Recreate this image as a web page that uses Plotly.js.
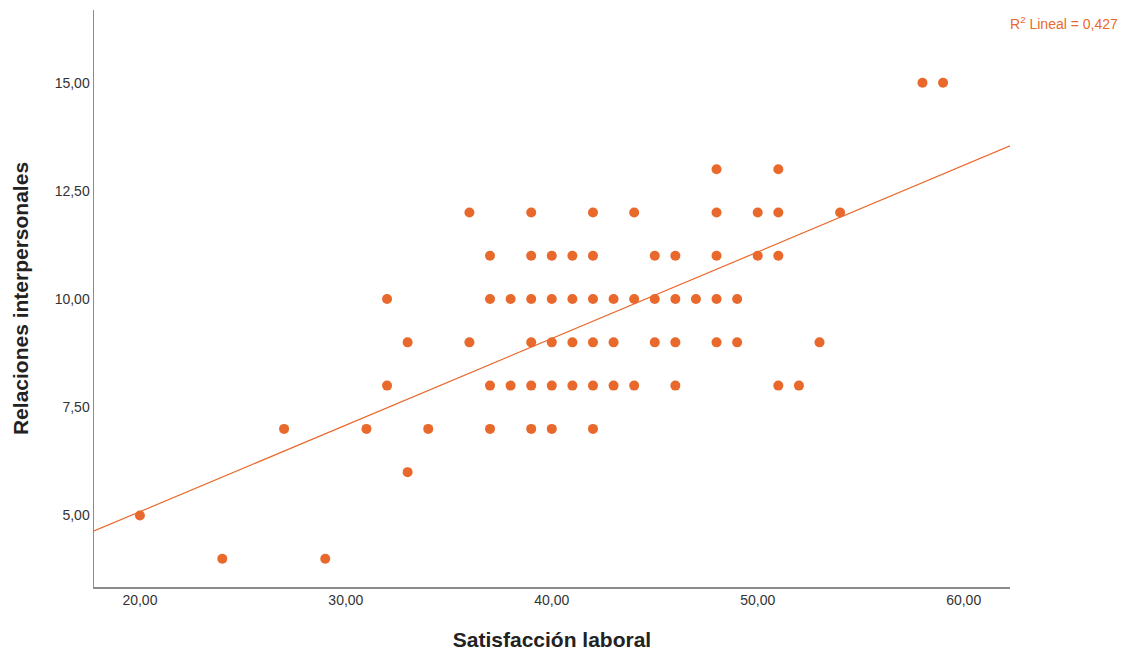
<!DOCTYPE html>
<html>
<head>
<meta charset="utf-8">
<script src="https://cdn.plot.ly/plotly-3.0.1.min.js"></script>
<style>html,body{margin:0;padding:0;background:#fff;}#chart{width:1126px;height:653px;}</style>
</head>
<body>
<div id="chart"></div>
<script>
// Satisfacción laboral (x) vs Relaciones interpersonales (y)
const satisfaccion = [
  58, 59,
  48, 51,
  36, 39, 42, 44, 48, 50, 51, 54,
  37, 39, 40, 41, 42, 45, 46, 48, 50, 51,
  32, 37, 38, 39, 40, 41, 42, 43, 44, 45, 46, 47, 48, 49,
  33, 36, 39, 40, 41, 42, 43, 45, 46, 48, 49, 53,
  32, 37, 38, 39, 40, 41, 42, 43, 44, 46, 51, 52,
  27, 31, 34, 37, 39, 40, 42,
  33,
  20,
  24, 29
];
const relaciones = [
  15, 15,
  13, 13,
  12, 12, 12, 12, 12, 12, 12, 12,
  11, 11, 11, 11, 11, 11, 11, 11, 11, 11,
  10, 10, 10, 10, 10, 10, 10, 10, 10, 10, 10, 10, 10, 10,
  9, 9, 9, 9, 9, 9, 9, 9, 9, 9, 9, 9,
  8, 8, 8, 8, 8, 8, 8, 8, 8, 8, 8, 8,
  7, 7, 7, 7, 7, 7, 7,
  6,
  5,
  4, 4
];
// Linear fit (R² = 0,427)
const fitIntercept = 1.084;
const fitSlope = 0.2001;
const r2Label = "R<sup>2</sup> Lineal = 0,427";

const xTickVals = [20, 30, 40, 50, 60];
const xTickText = ["20,00", "30,00", "40,00", "50,00", "60,00"];
const yTickVals = [5, 7.5, 10, 12.5, 15];
const yTickText = ["5,00", "7,50", "10,00", "12,50", "15,00"];

const xRange = [17.77, 62.25];
const yRange = [3.346, 16.68];

const orange = "#E9692C";
const fitX = [xRange[0], xRange[1]];
const fitY = fitX.map(v => fitIntercept + fitSlope * v);

const data = [
  {
    type: "scatter", mode: "lines",
    x: fitX, y: fitY,
    line: {color: orange, width: 1.2},
    hoverinfo: "skip", showlegend: false
  },
  {
    type: "scatter", mode: "markers",
    x: satisfaccion, y: relaciones,
    marker: {color: orange, size: 10, line: {width: 0}},
    showlegend: false
  }
];

const fam = "Liberation Sans, Arial, sans-serif";
const layout = {
  width: 1126, height: 653,
  paper_bgcolor: "#fff", plot_bgcolor: "#fff",
  margin: {l: 94, r: 116, t: 10, b: 66},
  font: {family: fam, color: "#333"},
  xaxis: {
    range: xRange, tickvals: xTickVals, ticktext: xTickText,
    showgrid: false, zeroline: false, showline: true,
    linecolor: "#8c8c8c", linewidth: 1.5, ticks: "",
    tickfont: {size: 14, color: "#333"},
    title: {text: "Satisfacción laboral", font: {size: 21, color: "#222", family: fam, weight: "bold"}, standoff: 25},
    automargin: false
  },
  yaxis: {
    range: yRange, tickvals: yTickVals, ticktext: yTickText,
    showgrid: false, zeroline: false, showline: true,
    linecolor: "#8c8c8c", linewidth: 1.5, ticks: "",
    tickfont: {size: 14, color: "#333"},
    title: {text: "Relaciones interpersonales", font: {size: 21, color: "#222", family: fam, weight: "bold"}, standoff: 20},
    automargin: false
  },
  annotations: [{
    xref: "paper", yref: "paper", x: 1.1201, y: 0.9775,
    xanchor: "right", yanchor: "middle", showarrow: false,
    text: r2Label, font: {size: 14, color: orange}
  }]
};

Plotly.newPlot("chart", data, layout, {displayModeBar: false, staticPlot: true});
</script>
</body>
</html>
